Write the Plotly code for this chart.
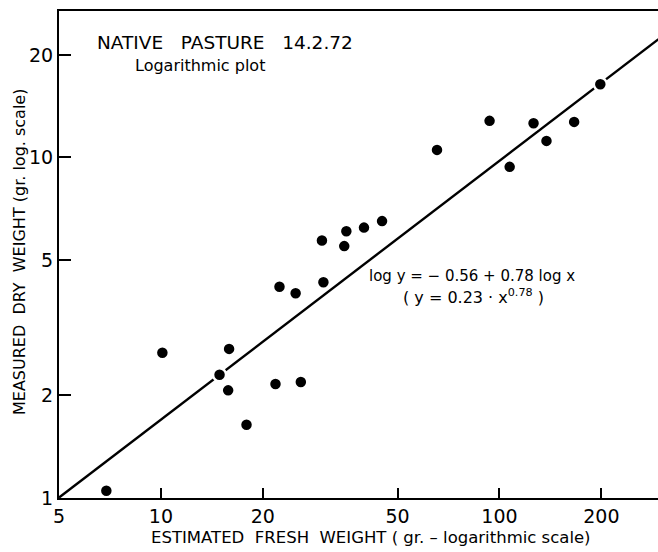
import plotly.graph_objects as go
import numpy as np

# Data
fresh_weight = [6.9, 10.1, 15.9, 14.9, 15.8, 21.8, 25.9, 17.9, 22.4, 25.0, 30.2, 29.9,
                34.8, 35.3, 39.8, 45.0, 65.4, 93.5, 107.2, 126.1, 137.7, 166.2, 198.6]
dry_weight = [1.05, 2.67, 2.74, 2.30, 2.07, 2.16, 2.19, 1.64, 4.17, 3.99, 4.30, 5.70,
              5.49, 6.07, 6.22, 6.50, 10.52, 12.80, 9.38, 12.60, 11.18, 12.71, 16.40]

# Regression line as drawn (log y = a + b log x)
fit_a = -0.53
fit_b = 0.76
fit_x = [5, 295]

x_ticks = [5, 10, 20, 50, 100, 200]
x_ticklabels = ["5", "10", "20", "50", "100", "200"]
y_ticks = [1, 2, 5, 10, 20]
y_ticklabels = ["1", "2", "5", "10", "20"]

FONT = "DejaVu Sans, Verdana, sans-serif"

fig = go.Figure()

fx = np.array(fit_x, dtype=float)
fy = 10 ** (fit_a + fit_b * np.log10(fx))
fig.add_trace(go.Scatter(x=fx, y=fy, mode="lines",
                         line=dict(color="black", width=2.4), hoverinfo="skip"))

fig.add_trace(go.Scatter(x=fresh_weight, y=dry_weight, mode="markers",
                         marker=dict(color="black", size=13,
                                     line=dict(color="white", width=2.5))))

W, H = 658, 552
L, R, T, B = 59, 0, 11, 54

fig.update_layout(
    width=W, height=H,
    margin=dict(l=L, r=R, t=T, b=B, pad=0),
    paper_bgcolor="white", plot_bgcolor="white",
    showlegend=False,
    font=dict(family=FONT, color="black"),
)

fig.update_xaxes(
    type="log", range=[np.log10(5), np.log10(294)],
    tickvals=x_ticks, ticktext=x_ticklabels,
    ticks="inside", ticklen=10, tickwidth=1.8, tickcolor="black",
    showline=True, linecolor="black", linewidth=2, mirror=True,
    showgrid=False, zeroline=False,
    tickfont=dict(size=19, family=FONT, color="black"),
)
fig.update_yaxes(
    type="log", range=[0, np.log10(26.9)],
    tickvals=y_ticks, ticktext=y_ticklabels,
    ticks="inside", ticklen=12, tickwidth=1.8, tickcolor="black",
    showline=True, linecolor="black", linewidth=2, mirror=False,
    showgrid=False, zeroline=False,
    tickfont=dict(size=19, family=FONT, color="black"),
)

pw = W - L - R
ph = H - T - B

def px2paper(px, py):
    return (px - L) / pw, (H - B - py) / ph

annotations = []

def add_text(text, px, py, size, xanchor="left", angle=0):
    x, y = px2paper(px, py)
    annotations.append(dict(text=text, x=x, y=y, xref="paper", yref="paper",
                            xanchor=xanchor, yanchor="middle", showarrow=False,
                            textangle=angle,
                            font=dict(size=size, family=FONT, color="black")))

add_text("NATIVE   PASTURE   14.2.72", 95, 43, 18.5)
add_text("Logarithmic plot", 133, 66, 16)
add_text("log y = \u2212 0.56 + 0.78 log x", 367, 276, 15)
add_text("( y = 0.23 \u00b7 x<sup>0.78</sup> )", 401, 296, 16)
add_text("ESTIMATED  FRESH  WEIGHT ( gr. \u2013 logarithmic scale)", 371, 537, 16.5, xanchor="center")
add_text("MEASURED  DRY  WEIGHT (gr. log. scale)", 20, 252, 16, xanchor="center", angle=-90)

fig.update_layout(annotations=annotations)

fig.write_html("out.html")
